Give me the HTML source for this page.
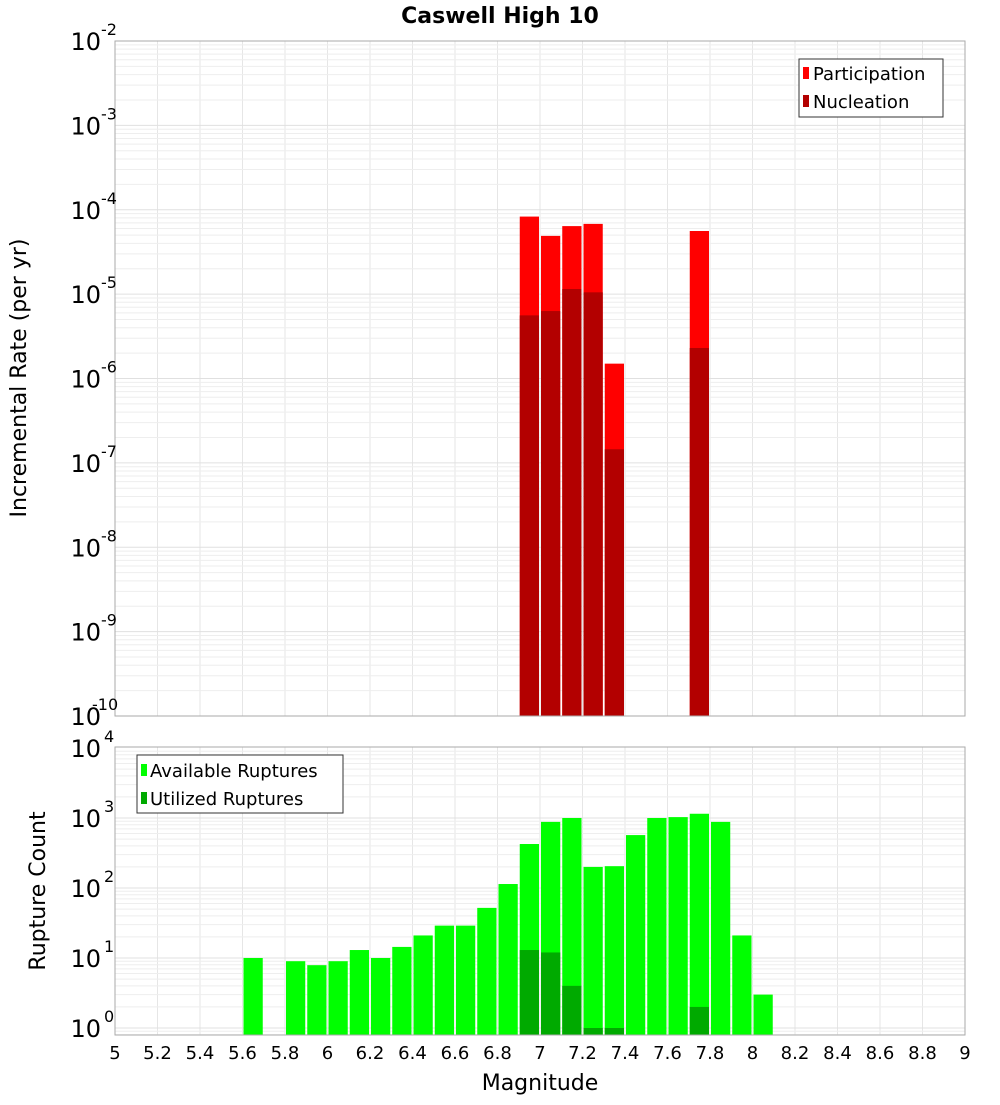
<!DOCTYPE html>
<html><head><meta charset="utf-8"><style>
body{margin:0;background:#fff;width:1000px;height:1100px;overflow:hidden}
svg{font-family:"DejaVu Sans","Liberation Sans",sans-serif}
</style></head><body>
<svg id="c" width="1000" height="1100" xmlns="http://www.w3.org/2000/svg">
<text x="500" y="23" text-anchor="middle" font-size="22" font-weight="bold">Caswell High 10</text>
</svg>
<script>
const topBins=[6.95,7.05,7.15,7.25,7.35,7.75];
const participation=[8.3e-5,4.9e-5,6.4e-5,6.8e-5,1.5e-6,5.6e-5];
const nucleation=[5.6e-6,6.3e-6,1.15e-5,1.05e-5,1.45e-7,2.3e-6];
const botBins=[5.65,5.85,5.95,6.05,6.15,6.25,6.35,6.45,6.55,6.65,6.75,6.85,6.95,7.05,7.15,7.25,7.35,7.45,7.55,7.65,7.75,7.85,7.95,8.05];
const available=[10,9,7.9,9,13,10,14.4,21,29,29,52,114,425,880,1000,200,205,570,1000,1030,1150,880,21,3.0];
const utilBins=[6.95,7.05,7.15,7.25,7.35,7.75];
const utilized=[13,12,4,1,1,2];
const xTicks=[5,5.2,5.4,5.6,5.8,6,6.2,6.4,6.6,6.8,7,7.2,7.4,7.6,7.8,8,8.2,8.4,8.6,8.8,9];
const topExp=[-2,-3,-4,-5,-6,-7,-8,-9,-10];
const botExp=[4,3,2,1,0];

const NS="http://www.w3.org/2000/svg";
const svg=document.getElementById('c');
function el(t,a,p){const e=document.createElementNS(NS,t);for(const k in a)e.setAttribute(k,a[k]);(p||svg).appendChild(e);return e;}
const X0=115,X1=965;
const x=m=>X0+(m-5)/(9-5)*(X1-X0);
const T0=41,T1=716;
const yT=v=>T0+(-2-Math.log10(v))/8*(T1-T0);
const B0=747,B1=1035;
const yB=v=>1028-Math.log10(v)*70;

function grid(g,top,bot,yf,lo,hi){
  for(const t of xTicks){el('line',{x1:x(t),x2:x(t),y1:top,y2:bot,stroke:'#e6e6e6','stroke-width':1},g);}
  for(let e=lo;e<hi;e++){for(let k=1;k<10;k++){const v=k*Math.pow(10,e);const y=yf(v);if(y<top-0.5||y>bot+0.5)continue;
    el('line',{x1:X0,x2:X1,y1:y,y2:y,stroke:k==1?'#e0e0e0':'#eeeeee','stroke-width':1},g);}}
}
const gt=el('g',{});
grid(gt,T0,T1,yT,-10,-2);
for(let i=0;i<topBins.length;i++){
  const r=el('rect',{x:x(topBins[i]-0.05)+1,width:x(5.1)-x(5)-2,y:yT(participation[i]),height:T1-yT(participation[i]),fill:'#ff0000'},gt);
  
  const n=el('rect',{x:x(topBins[i]-0.05)+1,width:x(5.1)-x(5)-2,y:yT(nucleation[i]),height:T1-yT(nucleation[i]),fill:'#b30000'},gt);
  
}
el('rect',{x:X0,y:T0,width:X1-X0,height:T1-T0,fill:'none',stroke:'#aaaaaa'},gt);
for(const e of topExp){const y=yT(Math.pow(10,e));
  const t=el('text',{x:101,y:y+9,'text-anchor':'end','font-size':24},gt);t.textContent='10';
  
  const s=el('text',{x:e==-10?92:101,y:y-6,'font-size':16},gt);s.textContent=e;}
const yl=el('text',{transform:'translate(26,378) rotate(-90)','text-anchor':'middle','font-size':22},gt);yl.textContent='Incremental Rate (per yr)';

const lg=el('g',{},gt);
el('rect',{x:799,y:59,width:144,height:58,fill:'#fff',stroke:'#333'},lg);
el('rect',{x:803,y:67,width:6,height:12,fill:'#ff0000'},lg);
el('rect',{x:803,y:95,width:6,height:12,fill:'#b30000'},lg);
let t1=el('text',{x:813,y:80,'font-size':18},lg);t1.textContent='Participation';
let t2=el('text',{x:813,y:108,'font-size':18},lg);t2.textContent='Nucleation';

const gb=el('g',{});
grid(gb,B0,B1,yB,-1,4);
for(let i=0;i<botBins.length;i++){
  const r=el('rect',{x:x(botBins[i]-0.05)+1,width:x(5.1)-x(5)-2,y:yB(available[i]),height:B1-yB(available[i]),fill:'#00ff00'},gb);
  }
for(let i=0;i<utilBins.length;i++){
  const r=el('rect',{x:x(utilBins[i]-0.05)+1,width:x(5.1)-x(5)-2,y:yB(utilized[i]),height:B1-yB(utilized[i]),fill:'#00aa00'},gb);
  }
el('rect',{x:X0,y:B0,width:X1-X0,height:B1-B0,fill:'none',stroke:'#aaaaaa'},gb);
for(const e of botExp){const y=yB(Math.pow(10,e));
  const t=el('text',{x:101,y:y+9,'text-anchor':'end','font-size':24},gb);t.textContent='10';
  
  const s=el('text',{x:104,y:y-6,'font-size':16},gb);s.textContent=e;}
const yl2=el('text',{transform:'translate(45,891) rotate(-90)','text-anchor':'middle','font-size':22},gb);yl2.textContent='Rupture Count';

const lg2=el('g',{},gb);
el('rect',{x:137,y:755,width:206,height:58,fill:'#fff',stroke:'#333'},lg2);
el('rect',{x:141,y:764,width:6,height:12,fill:'#00ff00'},lg2);
el('rect',{x:141,y:792,width:6,height:12,fill:'#00aa00'},lg2);
let t3=el('text',{x:150,y:777,'font-size':18},lg2);t3.textContent='Available Ruptures';
let t4=el('text',{x:150,y:805,'font-size':18},lg2);t4.textContent='Utilized Ruptures';
for(const t of xTicks){const tx=el('text',{x:x(t),y:1059,'text-anchor':'middle','font-size':18},gb);tx.textContent=String(t);
  }
const xl=el('text',{x:540,y:1090,'text-anchor':'middle','font-size':22},gb);xl.textContent='Magnitude';

</script>
</body></html>
